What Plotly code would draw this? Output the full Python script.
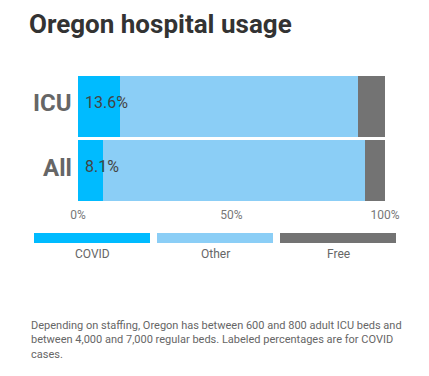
import plotly.graph_objects as go

categories = ["ICU", "All"]
covid = [13.6, 8.1]
other = [77.5, 85.4]
free = [8.9, 6.5]
series_names = ["COVID", "Other", "Free"]
colors = ["#00BBFF", "#8BCEF6", "#737373"]
x_ticks = [0, 50, 100]
x_tick_labels = ["0%", "50%", "100%"]
title = "Oregon hospital usage"
note = ("Depending on staffing, Oregon has between 600 and 800 adult ICU beds and<br>"
        "between 4,000 and 7,000 regular beds. Labeled percentages are for COVID<br>"
        "cases.")

OFF = 8  # page body margin
W, H = 429 - OFF, 376 - OFF
L, R, T = 78 - OFF, 44, 74 - OFF
B = H - (203 - OFF)
pw, ph = W - L - R, H - T - B

fig = go.Figure()
for name, vals, col in zip(series_names, [covid, other, free], colors):
    fig.add_trace(go.Bar(y=categories, x=vals, name=name, orientation="h",
                         marker=dict(color=col, line=dict(width=0)),
                         showlegend=False, hoverinfo="skip"))

annotations = []
for cat, v in zip(categories, covid):
    annotations.append(dict(x=0, y=cat, xref="x", yref="y", text=f"{v}%",
                            showarrow=False, xanchor="left", xshift=5, yshift=4,
                            font=dict(family="Roboto", size=16, color="#444444")))
    annotations.append(dict(x=0, y=cat, xref="x", yref="y", text=f"<b>{cat}</b>",
                            showarrow=False, xanchor="right", xshift=-4, yshift=3,
                            font=dict(family="Roboto", size=24, color="#666666")))

# custom legend (pixel positions in page coords)
def px_x(p):
    return (p - OFF - L) / pw

def px_y(p):
    return (H - B - (p - OFF)) / ph

shapes = []
leg_boxes = [(34, 150), (157, 273), (280, 396)]
for (x0, x1), name, col in zip(leg_boxes, series_names, colors):
    shapes.append(dict(type="rect", xref="paper", yref="paper",
                       x0=px_x(x0), x1=px_x(x1), y0=px_y(243), y1=px_y(233),
                       fillcolor=col, line=dict(width=0)))
    annotations.append(dict(x=px_x((x0 + x1) / 2), y=px_y(254), xref="paper", yref="paper",
                            text=name, showarrow=False, xanchor="center", yanchor="middle",
                            font=dict(family="Roboto", size=12, color="#666666")))

annotations.append(dict(x=px_x(29), y=px_y(317), xref="paper", yref="paper",
                        text=note, showarrow=False, xanchor="left", yanchor="top",
                        align="left",
                        font=dict(family="Roboto", size=11, color="#666666")))

fig.update_layout(
    barmode="stack",
    bargap=0.05,
    width=W, height=H,
    margin=dict(l=L, r=R, t=T, b=B),
    paper_bgcolor="white", plot_bgcolor="white",
    title=dict(text=f"<b>{title}</b>", x=(29 - OFF) / W, xanchor="left", xref="container",
               y=1 - (15 - OFF) / H, yanchor="top", yref="container",
               font=dict(family="Roboto", size=26, color="#333333")),
    xaxis=dict(range=[0, 100], tickvals=x_ticks, ticktext=x_tick_labels,
               showgrid=False, zeroline=False, showline=False, ticks="",
               ticklabelstandoff=3,
               tickfont=dict(family="Roboto", size=12, color="#777777")),
    yaxis=dict(autorange="reversed", showgrid=False, zeroline=False, ticks="",
               showticklabels=False),
    annotations=annotations,
    shapes=shapes,
)

fig.write_html("out.html")
